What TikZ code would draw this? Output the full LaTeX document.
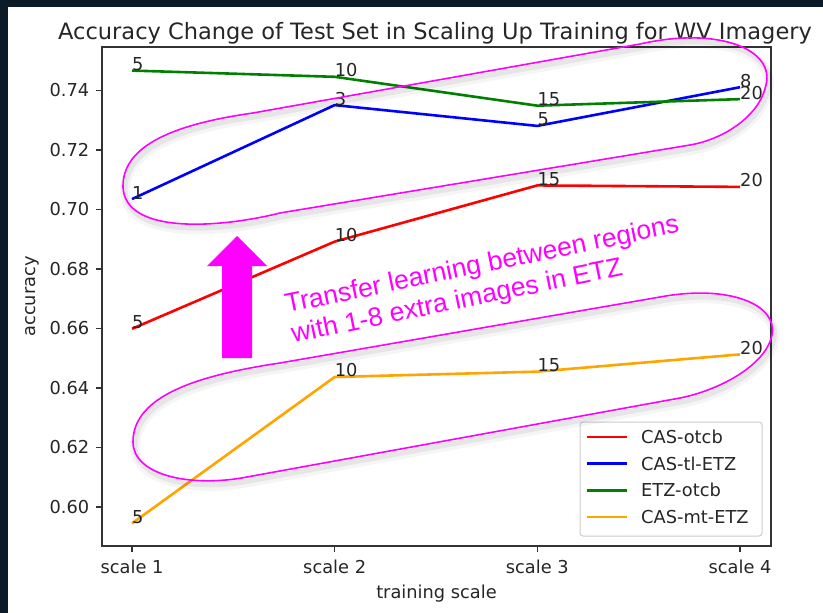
\documentclass[tikz,border=0pt]{standalone}
\usepackage{fontspec}
\setmainfont{DejaVu Sans}
\newfontfamily\arialf{Liberation Sans}
\definecolor{bgdark}{HTML}{0D1B26}
\definecolor{mag}{HTML}{FF00FF}
\definecolor{orng}{HTML}{FFA500}
\definecolor{grn}{HTML}{008000}
\definecolor{leggray}{HTML}{CCCCCC}
\newcommand\upperLoop[1]{\draw[#1] (123,187) .. controls (122,140) and (190,122) .. (253,113) -- (640,44) .. controls (720,26) and (775,50) .. (766,85) .. controls (760,115) and (725,139) .. (690,145) -- (280,213) .. controls (220,228) and (125,235) .. cycle;}
\newcommand\lowerLoop[1]{\draw[#1] (133,442) .. controls (133,395) and (200,375) .. (280,363) -- (660,297) .. controls (730,284) and (778,305) .. (772,335) .. controls (766,365) and (720,390) .. (680,398) -- (247,477) .. controls (190,488) and (133,475) .. cycle;}
\tikzset{
  tick/.style={font=\fontsize{17.8}{21}\selectfont, inner sep=0pt, text=black!85},
  ann/.style={font=\fontsize{17.8}{21}\selectfont, inner sep=0pt, text=black!85, anchor=base west},
  axisframe/.style={line width=1.3pt, draw=black!80},
  pline/.style={line width=2.6pt, line join=round},
  loopline/.style={draw=mag, line width=1.6pt},
  loopshadowA/.style={draw=black, opacity=0.04, line width=10pt, shift={(2,5)}},
  loopshadowB/.style={draw=black, opacity=0.06, line width=5pt, shift={(2,4)}},
  magtext/.style={font=\arialf\fontsize{26.5}{30}\selectfont, text=mag, inner sep=0pt, anchor=base west, rotate=11.6},
}
\begin{document}
\begin{tikzpicture}[x=1pt, y=-1pt]
\useasboundingbox (0,0) rectangle (823,613);
\fill[bgdark] (0,0) rectangle (823,613);
\fill[white] (8,7) rectangle (823,613);
% title
\node[font=\fontsize{22.5}{26}\selectfont, inner sep=0pt, anchor=base, text=black!85] (title) at (435,39) {Accuracy Change of Test Set in Scaling Up Training for WV Imagery};
% data
\begin{scope}[shift={(132pt,-507pt)}, x=202.67pt, y=29.75pt]
\coordinate (r1) at (0,5.99); \coordinate (r2) at (1,8.92); \coordinate (r3) at (2,10.81); \coordinate (r4) at (3,10.76);
\coordinate (b1) at (0,10.35); \coordinate (b2) at (1,13.51); \coordinate (b3) at (2,12.81); \coordinate (b4) at (3,14.11);
\coordinate (g1) at (0,14.67); \coordinate (g2) at (1,14.46); \coordinate (g3) at (2,13.49); \coordinate (g4) at (3,13.71);
\coordinate (o1) at (0,-0.55); \coordinate (o2) at (1,4.37); \coordinate (o3) at (2,4.55); \coordinate (o4) at (3,5.13);
\draw[pline, red] (r1) -- (r2) -- (r3) -- (r4);
\draw[pline, blue] (b1) -- (b2) -- (b3) -- (b4);
\draw[pline, grn] (g1) -- (g2) -- (g3) -- (g4);
\draw[pline, orng] (o1) -- (o2) -- (o3) -- (o4);
\node[ann] (lr1) at (r1) {5}; \node[ann] (lr2) at (r2) {10}; \node[ann] (lr3) at (r3) {15}; \node[ann] (lr4) at (r4) {20};
\node[ann] (lb1) at (b1) {1}; \node[ann] (lb2) at (b2) {3}; \node[ann] (lb3) at (b3) {5}; \node[ann] (lb4) at (b4) {8};
\node[ann] (lg1) at (g1) {5}; \node[ann] (lg2) at (g2) {10}; \node[ann] (lg3) at (g3) {15}; \node[ann] (lg4) at (g4) {20};
\node[ann] (lo1) at (o1) {5}; \node[ann] (lo2) at (o2) {10}; \node[ann] (lo3) at (o3) {15}; \node[ann] (lo4) at (o4) {20};
\end{scope}
% axes
\draw[axisframe] (102,47) rectangle (771,546);
\foreach \i/\l in {0/0.60,1/0.62,2/0.64,3/0.66,4/0.68,5/0.70,6/0.72,7/0.74}{
  \pgfmathsetmacro\yy{507-\i*59.5}
  \draw[axisframe] (102,\yy) -- (95.8,\yy);
  \node[tick, anchor=east] (yt\i) at (89.5,\yy) {\l};
}
\foreach \i/\l in {0/scale 1,1/scale 2,2/scale 3,3/scale 4}{
  \pgfmathsetmacro\xx{132+\i*202.67}
  \draw[axisframe] (\xx,546) -- (\xx,552.2);
  \node[tick, anchor=base] (xt\i) at (\xx,573) {\l};
}
\node[tick, anchor=base] (xlabel) at (436.5,598) {training scale};
\node[tick, anchor=base, rotate=90] (ylabel) at (35,296.5) {accuracy};
% legend
\draw[leggray, fill=white, fill opacity=0.8, line width=1pt, rounded corners=3pt] (580,422) rectangle (762,536);
\foreach \c/\t/\yy [count=\k] in {red/CAS-otcb/437, blue/CAS-tl-ETZ/463.7, grn/ETZ-otcb/490.3, orng/CAS-mt-ETZ/517}{
  \draw[pline, \c] (587,\yy) -- (627,\yy);
  \node[tick, anchor=west] (leg\k) at (641,\yy) {\t};
}
% loops with shadows
\upperLoop{loopshadowA}
\upperLoop{loopshadowB}
\lowerLoop{loopshadowA}
\lowerLoop{loopshadowB}
\upperLoop{loopline}
\lowerLoop{loopline}
% arrow
\fill[mag] (222,358) -- (252,358) -- (252,266) -- (267,266) -- (237,236) -- (207,266) -- (222,266) -- cycle;
% text
\node[magtext] (t1) at (287,313) {Transfer learning between regions};
\node[magtext] (t2) at (293.2,343) {with 1-8 extra images in ETZ};
\end{tikzpicture}
\end{document}
